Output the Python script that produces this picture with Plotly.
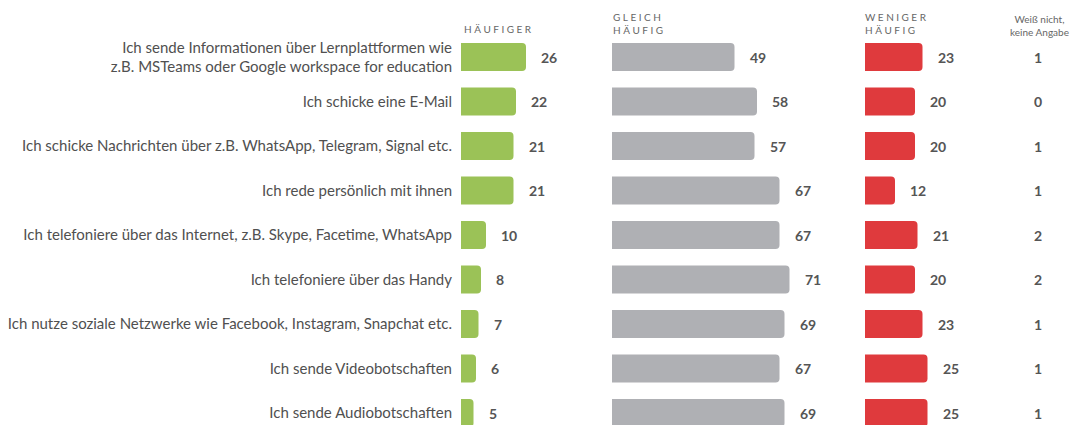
import plotly.graph_objects as go

categories = [
    "Ich sende Informationen über Lernplattformen wie<br>z.B. MSTeams oder Google workspace for education",
    "Ich schicke eine E-Mail",
    "Ich schicke Nachrichten über z.B. WhatsApp, Telegram, Signal etc.",
    "Ich rede persönlich mit ihnen",
    "Ich telefoniere über das Internet, z.B. Skype, Facetime, WhatsApp",
    "Ich telefoniere über das Handy",
    "Ich nutze soziale Netzwerke wie Facebook, Instagram, Snapchat etc.",
    "Ich sende Videobotschaften",
    "Ich sende Audiobotschaften",
]
haeufiger = [26, 22, 21, 21, 10, 8, 7, 6, 5]
gleich = [49, 58, 57, 67, 67, 71, 69, 67, 69]
weniger = [23, 20, 20, 12, 21, 20, 23, 25, 25]
weiss_nicht = [1, 0, 1, 1, 2, 2, 1, 1, 1]

W, H = 1074, 425
FONT = "Lato, 'Open Sans', sans-serif"
GREEN = "#9bc257"
GRAY = "#afb0b4"
RED = "#df3a3d"
VAL_COLOR = "#555555"
LABEL_COLOR = "#505050"

top_m = 30
plot_h = H - top_m
row_px = 44.5
first_center = 57
r_top = -(first_center - top_m) / row_px
r_bot = r_top + plot_h / row_px


def py(pix):
    """pixel y from figure top -> paper y"""
    return (H - pix) / plot_h


fig = go.Figure()
bar_w = 0.63
for axis, vals, col in (("x", haeufiger, GREEN), ("x2", gleich, GRAY), ("x3", weniger, RED)):
    fig.add_trace(go.Bar(y=categories, x=vals, orientation="h", xaxis=axis, yaxis="y",
                         marker=dict(color=col, line=dict(width=0), cornerradius=4),
                         width=bar_w, hoverinfo="skip"))

annotations = []
for axis, vals in (("x", haeufiger), ("x2", gleich), ("x3", weniger)):
    for cat, v in zip(categories, vals):
        annotations.append(dict(x=v, y=cat, xref=axis, yref="y", text=f"<b>{v}</b>",
                                showarrow=False, xanchor="left", xshift=13,
                                font=dict(family=FONT, size=14, color=VAL_COLOR)))
for cat, v in zip(categories, weiss_nicht):
    annotations.append(dict(x=1038 / W, y=cat, xref="paper", yref="y", text=f"<b>{v}</b>",
                            showarrow=False, xanchor="center",
                            font=dict(family=FONT, size=14, color=VAL_COLOR)))


def spaced(s):
    return "\u2005".join(s)


headers = [
    (462, "left", 29, spaced("HÄUFIGER")),
    (611, "left", 23.5, spaced("GLEICH") + "<br>" + spaced("HÄUFIG")),
    (863, "left", 23.5, spaced("WENIGER") + "<br>" + spaced("HÄUFIG")),
    (1039, "center", 26, "Weiß nicht,<br>keine Angabe"),
]
for x, anchor, yc, txt in headers:
    annotations.append(dict(x=x / W, y=py(yc), xref="paper", yref="paper", text=txt,
                            showarrow=False, xanchor=anchor, yanchor="middle", align=anchor,
                            font=dict(family=FONT, size=10, color="#666666")))

fig.update_layout(
    width=W, height=H,
    margin=dict(l=0, r=0, t=top_m, b=0),
    paper_bgcolor="white", plot_bgcolor="white",
    showlegend=False,
    font=dict(family=FONT, size=15, color=LABEL_COLOR),
    xaxis=dict(domain=[461 / W, 600 / W], range=[0, 139 / 2.5], visible=False, anchor="y", fixedrange=True),
    xaxis2=dict(domain=[612 / W, 855 / W], range=[0, 243 / 2.5], visible=False, anchor="y", fixedrange=True),
    xaxis3=dict(domain=[865 / W, 1010 / W], range=[0, 145 / 2.5], visible=False, anchor="y", fixedrange=True),
    yaxis=dict(anchor="x", range=[r_bot, r_top], showgrid=False, zeroline=False, showline=False,
               ticks="", ticklabelstandoff=8, tickfont=dict(family=FONT, size=15, color=LABEL_COLOR),
               fixedrange=True),
    annotations=annotations,
)

fig.write_html("out.html", config={"displayModeBar": False},
               post_script="document.body.style.margin='0px';")
